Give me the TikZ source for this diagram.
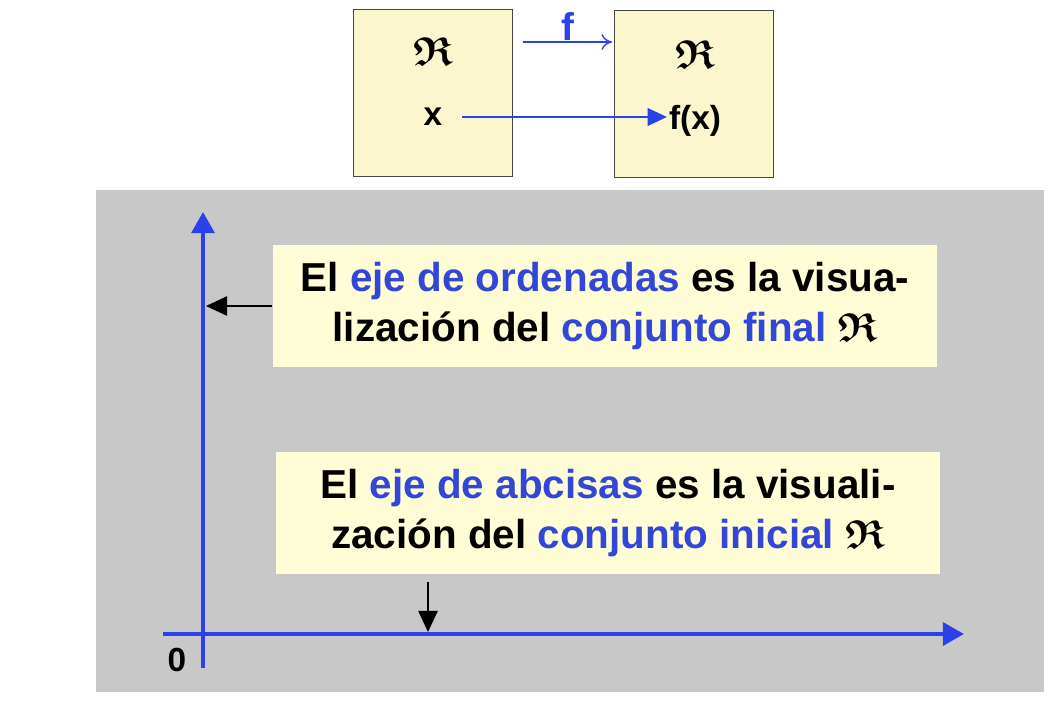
\documentclass[tikz,border=0pt]{standalone}
\usepackage{amsmath,amssymb}
\usepackage{fontspec}
\setmainfont{Liberation Sans}
\usepackage{tikz}
\usetikzlibrary{positioning,calc}
\usetikzlibrary{arrows.meta}
\definecolor{AxisBlue}{RGB}{45,65,235}
\definecolor{WordBlue}{RGB}{50,70,215}
\definecolor{PaleYellow}{RGB}{251,246,205}
\definecolor{NoteYellow}{RGB}{255,253,213}
\definecolor{PanelGray}{RGB}{200,200,200}
\definecolor{FrameGray}{RGB}{70,70,70}
\tikzset{
  setbox/.style={draw=FrameGray,fill=PaleYellow,line width=0.9pt,minimum width=3.18cm,minimum height=3.34cm},
  note/.style={fill=NoteYellow,inner sep=0pt,minimum width=13.3cm,minimum height=2.46cm,align=center,
    font=\fontsize{23}{28.5}\selectfont\bfseries},
  axis/.style={draw=AxisBlue,line width=2.2pt,-{Triangle[length=12pt,width=13pt]}},
  pointer/.style={draw=black,line width=0.9pt,-{Triangle[length=12pt,width=11pt]}},
  lbl/.style={font=\fontsize{19}{22}\selectfont\bfseries,inner sep=1pt},
}
\newcommand{\bl}[1]{\textcolor{WordBlue}{#1}}
\newcommand{\RR}{$\boldsymbol{\mathfrak{R}}$}

\begin{document}
\begin{tikzpicture}[x=0.02cm,y=-0.02cm]
\useasboundingbox (0,0) rectangle (1064,702);
% the two sets
\node[setbox] (start) at (433,93) {};
\node[setbox] (final) at (694,94) {};
\node[font=\fontsize{23}{28}\selectfont] (r1) at (433,52) {\RR};
\node[font=\fontsize{23}{28}\selectfont] (r2) at (695,55) {\RR};
\node[lbl] (xx) at (433,117) {x};
\node[lbl] (fx) at (695,121) {f(x)};
\coordinate (fa) at (523,42);
\coordinate (fb) at (612,42);
\draw[AxisBlue,line width=0.8pt,-{To[length=6pt,width=9pt]}] (fa)--(fb)
  node[midway,above=-3pt,font=\fontsize{22}{26}\selectfont\bfseries,text=AxisBlue] (f) {f};
\coordinate (xs) at (462,117);
\draw[AxisBlue,line width=1.1pt,-{Triangle[length=11pt,width=10pt]}] (xs) -- (xs -| fx.west);
% the plane
\fill[PanelGray] (96,190) rectangle (1044,692);
\coordinate (o) at (203,634);
\coordinate (ytop) at (203,212);
\coordinate (xend) at (964,634);
\draw[axis] (203,668)--(ytop);
\draw[axis] (163,634)--(xend);
\node[lbl] (zero) at (177,660) {0};
\node[note] (ord) at (605,306) {El \bl{eje de ordenadas} es la visua-\\lización del \bl{conjunto final} \RR};
\node[note] (abs) at (608,513) {El \bl{eje de abcisas} es la visuali-\\zación del \bl{conjunto inicial} \RR};
\draw[pointer] (ord.west) -- (206,306);
\draw[pointer] (428,582) -- (428,632);
\end{tikzpicture}
\end{document}
